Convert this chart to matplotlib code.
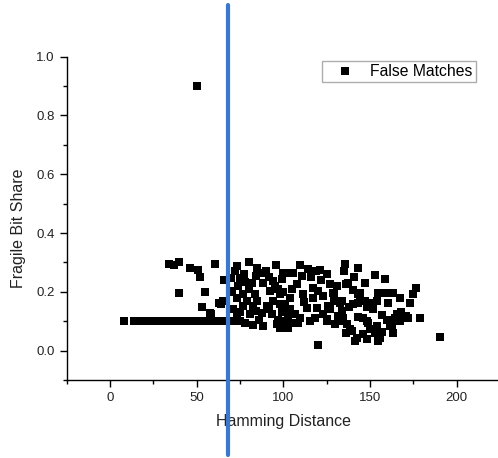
import matplotlib
matplotlib.use("Agg")
import matplotlib.pyplot as plt
from matplotlib.ticker import MultipleLocator
import matplotlib.transforms as mtransforms

plt.rcParams['font.family'] = ['Liberation Sans', 'DejaVu Sans']

# Horizontal run of points at fragile bit share 0.10
line_x = [8, 14, 15, 16, 17, 18, 19, 20, 21, 22, 23, 24, 25, 26, 27, 28, 29, 30, 31, 32,
          33, 34, 35, 36, 37, 38, 39, 40, 41, 42, 43, 44, 45, 46, 47, 48, 49, 50, 51, 52,
          53, 54, 55, 56, 57, 58, 59, 60, 61, 62, 63, 64, 65, 66, 67, 68, 69, 70, 71, 72,
          73, 74, 75]
line_y = [0.10] * len(line_x)

# Scattered false matches
scatter_x = [50, 34, 37, 40, 40, 46, 51, 52, 53, 55, 58, 60.5, 63, 65, 66, 70, 57.7, 63.8,
             73, 80, 85, 96, 109.6, 114, 119, 70, 75, 81.7, 88.4, 94.2, 100, 105.7, 107.7,
             70.2, 76.9, 83.6, 92.3, 98, 103.8, 111.5, 117.3, 76.9, 82.6, 90.4, 98, 103.8,
             113.4, 80.7, 87.5, 93.3, 102.8, 109.6, 82.6, 96.1, 102.8, 98, 108.6, 74,
             135.5, 121, 101, 152.8, 158.6, 137.4, 117.2, 176.8, 175, 128.8, 144.2, 154.7,
             158.6, 167.2, 160.5, 173, 125.9, 133.6, 143.2, 151.8, 178.8, 165.3, 171, 167.2,
             162.5, 153.8, 155.7, 154.7, 142.3, 141.3, 138.4, 134.5, 132.6, 136.5, 146, 149,
             150, 120, 190.3, 125,
             136, 120, 129, 143, 144, 140.3, 147, 153.8, 132.6, 133.6, 131.7, 139.4, 148,
             152.8, 154.7, 161.5, 164.4, 166.3, 169.2, 172, 123, 119.2, 123, 125, 115.3,
             72, 77, 78, 84, 87, 90, 92, 95, 80, 73, 79, 85, 94, 97, 71, 75, 84,
             92, 99, 73, 86, 97, 100, 78, 88, 104,
             100, 105, 116, 111, 99, 112, 101, 107,
             118, 122, 125, 127, 129, 127, 130,
             131, 140, 138, 148, 152, 157, 160, 157,
             143, 146, 148, 136, 163, 168, 163, 147, 141, 135, 143]
scatter_y = [0.90, 0.295, 0.29, 0.30, 0.196, 0.28, 0.275, 0.25, 0.15, 0.20, 0.125, 0.296,
             0.163, 0.17, 0.24, 0.20, 0.128, 0.157,
             0.288, 0.30, 0.282, 0.291, 0.291, 0.278, 0.271, 0.248, 0.248, 0.231, 0.231,
             0.237, 0.265, 0.265, 0.225, 0.203, 0.191, 0.191, 0.203, 0.191, 0.18, 0.191,
             0.18, 0.151, 0.151, 0.151, 0.157, 0.14, 0.146, 0.123, 0.128, 0.123, 0.117,
             0.111, 0.086, 0.089, 0.077, 0.077, 0.094, 0.22,
             0.296, 0.273, 0.265, 0.256, 0.243, 0.231, 0.214, 0.214, 0.191, 0.195, 0.197,
             0.197, 0.197, 0.18, 0.163, 0.163, 0.151, 0.168, 0.163, 0.163, 0.111, 0.123,
             0.117, 0.10, 0.083, 0.083, 0.043, 0.032, 0.043, 0.032, 0.072, 0.111, 0.10,
             0.089, 0.111, 0.094, 0.072, 0.018, 0.046, 0.10,
             0.225, 0.203, 0.193, 0.193, 0.168, 0.157, 0.168, 0.168, 0.163, 0.134, 0.117,
             0.066, 0.10, 0.06, 0.034, 0.083, 0.111, 0.123, 0.117, 0.111, 0.185, 0.146,
             0.123, 0.106, 0.10,
             0.27, 0.26, 0.235, 0.255, 0.265, 0.27, 0.25, 0.22, 0.21, 0.18, 0.17,
             0.17, 0.17, 0.21, 0.14, 0.13, 0.135, 0.14, 0.13,
             0.115, 0.105, 0.105, 0.10, 0.095, 0.085, 0.095,
             0.20, 0.21, 0.25, 0.255, 0.245, 0.165, 0.16, 0.125,
             0.11, 0.24, 0.26, 0.225, 0.17, 0.14, 0.09,
             0.22, 0.205, 0.15, 0.15, 0.14, 0.12, 0.105, 0.065,
             0.115, 0.055, 0.04, 0.06, 0.06, 0.13, 0.195, 0.23, 0.25, 0.27, 0.28]

threshold_x = 68

fig = plt.figure(figsize=(4.98, 4.58), dpi=100)
ax = fig.add_axes([0.134, 0.1703, 0.870, 0.706])

xs = line_x + scatter_x
ys = line_y + scatter_y
ax.plot(xs, ys, linestyle='none', marker='s', markersize=5.2, color='black',
        markeredgewidth=0, label='False Matches')

ax.set_xlim(-25, 225)
ax.set_ylim(-0.1, 1.0)
ax.xaxis.set_major_locator(MultipleLocator(50))
ax.xaxis.set_minor_locator(MultipleLocator(25))
ax.yaxis.set_minor_locator(MultipleLocator(0.1))
ax.set_yticks([0.0, 0.2, 0.4, 0.6, 0.8, 1.0])
ax.set_yticklabels(['0.0', '0.2', '0.4', '0.6', '0.8', '1.0'])
ax.tick_params(which='major', direction='out', length=5, width=1, labelsize=9.5,
               colors='black', labelcolor='#222222')
ax.tick_params(which='minor', direction='out', length=3, width=1)
ax.spines['top'].set_visible(False)
ax.spines['right'].set_visible(False)
for s in ('left', 'bottom'):
    ax.spines[s].set_linewidth(1.0)

ax.set_xlabel('Hamming Distance', fontsize=11.5, color='#222222', labelpad=7)
ax.set_ylabel('Fragile Bit Share', fontsize=11.5, color='#222222')
ax.yaxis.set_label_coords(-0.093, 0.47)

leg = ax.legend(loc='upper right', bbox_to_anchor=(0.944, 0.987), frameon=True,
                fancybox=False, fontsize=11.3, handlelength=2.55, handletextpad=0.35,
                borderpad=0.2, borderaxespad=0.0, markerscale=1.0)
leg.get_frame().set_edgecolor('#999999')
leg.get_frame().set_linewidth(1.0)

# Threshold line spanning beyond the axes
trans = mtransforms.blended_transform_factory(ax.transData, fig.transFigure)
ax.plot([threshold_x, threshold_x], [1 - 5 / 458, 1 - 455 / 458], transform=trans,
        color='#3a78d0', linewidth=3, solid_capstyle='round', clip_on=False, zorder=5)

fig.savefig('out.png', dpi=100)
